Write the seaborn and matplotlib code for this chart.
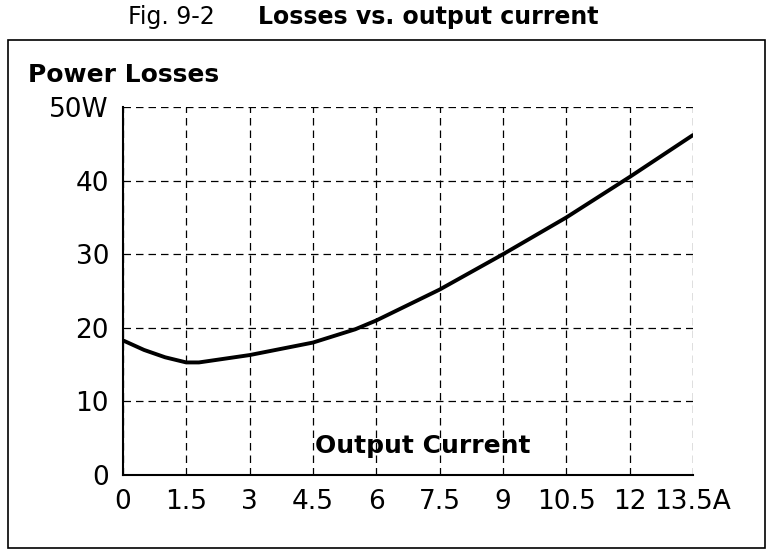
import matplotlib
matplotlib.use("Agg")
import matplotlib.pyplot as plt
import seaborn as sns
from matplotlib.patches import Rectangle

current = [0, 0.5, 1.0, 1.5, 1.8, 3.0, 4.5, 5.5, 6.0, 7.5, 9.0, 10.5, 12.0, 13.5]
losses = [18.3, 17.0, 16.0, 15.3, 15.3, 16.3, 18.0, 19.8, 21.0, 25.2, 30.0, 35.0, 40.5, 46.2]
xticks = [0, 1.5, 3, 4.5, 6, 7.5, 9, 10.5, 12, 13.5]
xlabels = ["0", "1.5", "3", "4.5", "6", "7.5", "9", "10.5", "12", "13.5A"]
yticks = [0, 10, 20, 30, 40, 50]
ylabels = ["0", "10", "20", "30", "40", "50W"]

sns.set_theme(style="white")
plt.rcParams['font.family'] = ['DejaVu Sans']
fig = plt.figure(figsize=(7.73, 5.54), dpi=100)
ax = fig.add_axes([0.159, 0.1426, 0.7374, 0.664])
sns.lineplot(x=current, y=losses, ax=ax, color="black", linewidth=2.8)
ax.set_xlim(0, 13.5)
ax.set_ylim(0, 50)
ax.set_xticks(xticks)
ax.set_xticklabels(xlabels)
ax.set_yticks(yticks)
ax.set_yticklabels(ylabels)
ax.tick_params(axis="both", labelsize=19, length=8, width=1.5, color="black", direction="out", labelcolor="black", pad=2)
ax.grid(True, color="black", linestyle=(0, (6, 4)), linewidth=0.9)
for s in ["top", "right"]:
    ax.spines[s].set_visible(False)
for s in ["left", "bottom"]:
    ax.spines[s].set_color("black")
    ax.spines[s].set_linewidth(1.5)
ax.set_xlabel("")
ax.set_ylabel("")
ax.set_facecolor("white")
ax.text(7.1, 4.0, "Output Current", fontsize=18, fontweight="bold", ha="center", va="center", color="black")
fig.text(28/773, 1-75/554, "Power Losses", fontsize=18, fontweight="bold", ha="left", va="center", color="black")
fig.text(128/773, 1-17/554, "Fig. 9-2", fontsize=17, ha="left", va="center", color="black")
fig.text(258/773, 1-17/554, "Losses vs. output current", fontsize=17, fontweight="bold", ha="left", va="center", color="black")
fig.patches.append(Rectangle((8/773, 6/554), 757/773, 1-46/554, transform=fig.transFigure, fill=False, edgecolor="black", linewidth=1.2))
fig.savefig("out.png", dpi=100, facecolor="white")
